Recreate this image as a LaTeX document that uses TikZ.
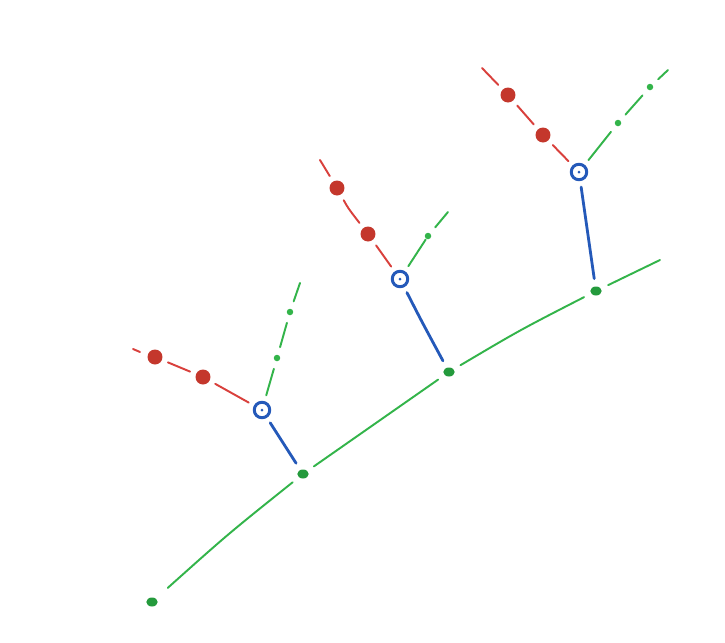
\documentclass[tikz,border=0pt]{standalone}
\usepackage{tikz}
\usetikzlibrary{arrows.meta,shapes.geometric}
\definecolor{penred}{HTML}{D9403C}
\definecolor{dotred}{HTML}{C4372C}
\definecolor{pengreen}{HTML}{33B44A}
\definecolor{dotgreen}{HTML}{249A3C}
\definecolor{penblue}{HTML}{2459B9}
\tikzset{
  every picture/.style={line join=round, line cap=round},
  redline/.style={draw=penred, line width=1.1pt},
  greenline/.style={draw=pengreen, line width=1.1pt},
  blueline/.style={draw=penblue, line width=1.6pt},
  reddot/.style={circle, fill=dotred, inner sep=0pt, minimum size=0.3cm, outer sep=0.13cm},
  twig/.style={circle, fill=pengreen, inner sep=0pt, minimum size=0.13cm, outer sep=0.16cm},
  knot/.style={ellipse, fill=dotgreen, inner sep=0pt, minimum width=0.23cm, minimum height=0.18cm, outer sep=0.16cm},
  ring/.style={circle, draw=penblue, line width=1.7pt, inner sep=0pt, minimum size=0.31cm, outer sep=0.15cm,
    path picture={\fill[penblue] (path picture bounding box.center) circle (0.03cm);}},
}

\begin{document}
\begin{tikzpicture}[x=0.02cm,y=-0.02cm]
\useasboundingbox[fill=white](0,0)rectangle(725,643);
% trunk
\node[knot](root)at(152,602){};
\node[knot](ka)at(303,474){};
\node[knot](kb)at(449,372){};
\node[knot](kc)at(596,291){};
\coordinate(tip)at(660,260);
\draw[greenline,shorten <=0.16cm](root)..controls(228,534)..(ka);
\draw[greenline](ka)--(kb);
\draw[greenline](kb)..controls(520,330)..(kc);
\draw[greenline](kc)--(tip);
% rings
\node[ring](ra)at(262,410){};
\node[ring](rb)at(400,279){};
\node[ring](rc)at(579,172){};
\draw[blueline](ka)--(ra);
\draw[blueline](kb)..controls(422,322)..(rb);
\draw[blueline](kc)--(rc);
% red branches
\node[reddot](a1)at(203,377){};
\node[reddot](a2)at(155,357){};
\coordinate(a3)at(140,352);
\coordinate(a4)at(133,349);
\draw[redline](ra)--(a1);
\draw[redline](a1)--(a2);
\draw[redline](a3)--(a4);
\node[reddot](b1)at(368,234){};
\node[reddot](b2)at(337,188){};
\coordinate(b3)at(320,160);
\draw[redline](rb)--(b1);
\draw[redline](b1)..controls(348,208)..(b2);
\draw[redline](b2)--(b3);
\node[reddot](c1)at(543,135){};
\node[reddot](c2)at(508,95){};
\coordinate(c3)at(482,68);
\draw[redline](rc)--(c1);
\draw[redline](c1)--(c2);
\draw[redline](c2)--(c3);
% green branches
\node[twig](g1)at(277,358){};
\node[twig](g2)at(290,312){};
\coordinate(g3)at(300,283);
\draw[greenline](ra)--(g1);
\draw[greenline](g1)--(g2);
\draw[greenline](g2)--(g3);
\node[twig](h1)at(428,236){};
\coordinate(h2)at(448,212);
\draw[greenline,shorten >=-0.14cm](rb)--(h1);
\draw[greenline](h1)--(h2);
\node[twig](i1)at(618,123){};
\node[twig](i2)at(650,87){};
\coordinate(i3)at(668,70);
\draw[greenline](rc)--(i1);
\draw[greenline](i1)--(i2);
\draw[greenline](i2)--(i3);
\end{tikzpicture}
\end{document}
